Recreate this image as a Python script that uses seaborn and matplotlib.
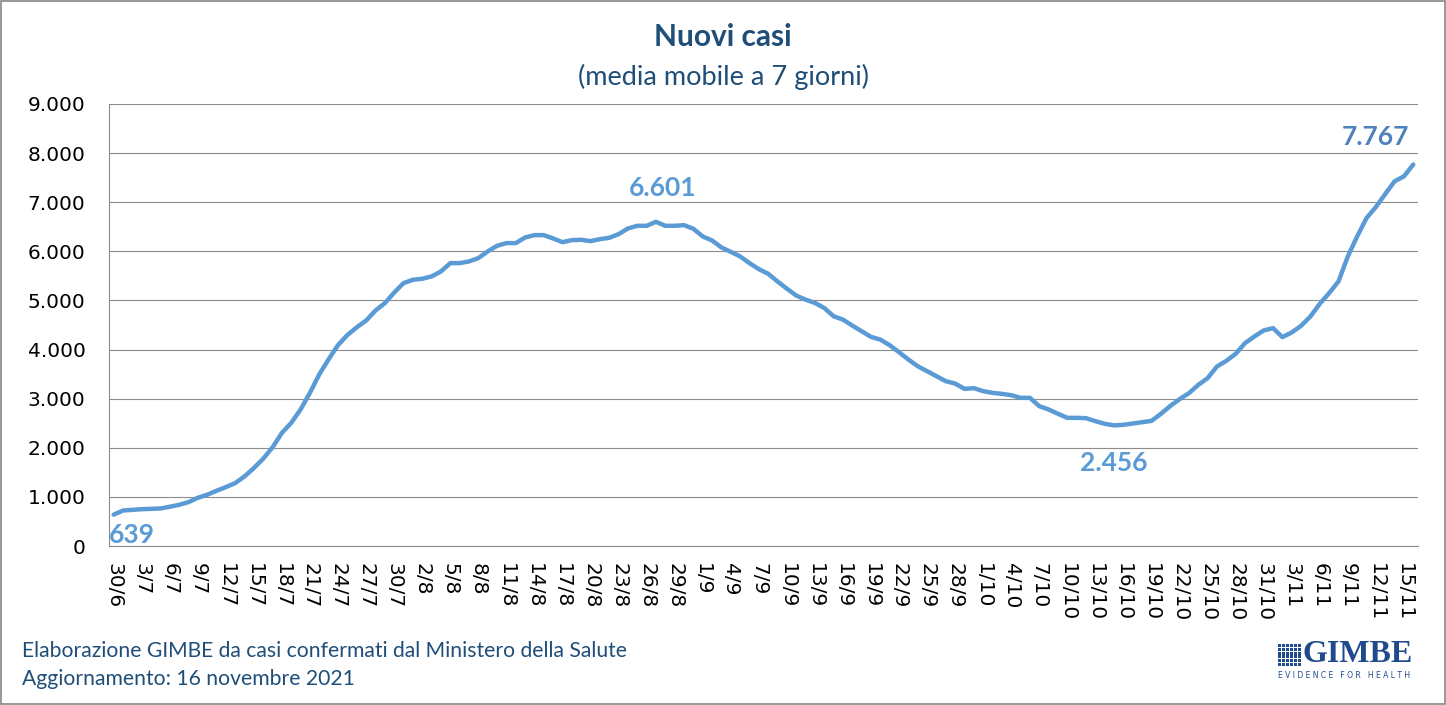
import numpy as np
import pandas as pd
import matplotlib
matplotlib.use("Agg")
import matplotlib.pyplot as plt
import seaborn as sns
from matplotlib.patches import Rectangle
from matplotlib.ticker import FuncFormatter

# 7-day moving average of new cases, 30/6/2021 -> 16/11/2021
dates = pd.date_range("2021-06-30", "2021-11-16", freq="D")
day_labels = [f"{d.day}/{d.month}" for d in dates]

new_cases = [
    639, 723, 737, 750, 757, 764, 800, 839, 894, 982,
    1044, 1125, 1200, 1282, 1419, 1589, 1780, 2012, 2306, 2510,
    2783, 3124, 3499, 3806, 4093, 4297, 4454, 4591, 4795, 4945,
    5160, 5353, 5421, 5441, 5489, 5590, 5760, 5760, 5794, 5862,
    5997, 6113, 6167, 6167, 6282, 6330, 6330, 6262, 6187, 6228,
    6235, 6208, 6248, 6275, 6350, 6465, 6520, 6520, 6601, 6520,
    6520, 6533, 6459, 6303, 6221, 6079, 5990, 5896, 5760, 5638,
    5543, 5387, 5240, 5100, 5017, 4949, 4847, 4678, 4610, 4488,
    4373, 4258, 4203, 4088, 3946, 3797, 3661, 3559, 3458, 3356,
    3308, 3200, 3214, 3153, 3119, 3098, 3071, 3017, 3017, 2847,
    2780, 2692, 2610, 2610, 2603, 2542, 2488, 2456, 2468, 2495,
    2522, 2548, 2690, 2850, 2990, 3111, 3281, 3417, 3655, 3770,
    3913, 4130, 4266, 4389, 4436, 4253, 4348, 4484, 4674, 4932,
    5149, 5387, 5897, 6304, 6678, 6902, 7167, 7425, 7527, 7767,
]

# highlighted points: (index, label, colour, offset in points)
highlights = [
    (0, "639", "#5B9BD5", (13, -15)),
    (58, "6.601", "#5B9BD5", (5, 24)),
    (107, "2.456", "#5B9BD5", (0, -27)),
    (139, "7.767", "#4F81BD", (-27, 20)),
]

navy = "#1F4E79"
line_blue = "#5B9BD5"
grid_grey = "#8C8C8C"

sns.set_style("white")
plt.rcParams["font.family"] = ["DejaVu Sans"]

fig = plt.figure(figsize=(14.46, 7.05), dpi=100)
ax = fig.add_axes([0.0754, 0.2255, 0.9052, 0.627])

df = pd.DataFrame({"idx": np.arange(len(new_cases)), "casi": new_cases})
sns.lineplot(data=df, x="idx", y="casi", ax=ax, color=line_blue, linewidth=3.2)

ax.set_xlim(-0.5, len(new_cases) - 0.5)
ax.set_ylim(0, 9000)
ax.set_yticks(range(0, 9001, 1000))
ax.yaxis.set_major_formatter(FuncFormatter(lambda v, p: f"{int(v):,}".replace(",", ".")))
tick_pos = list(range(0, len(new_cases), 3))
ax.set_xticks(tick_pos)
ax.set_xticklabels([day_labels[i] for i in tick_pos], rotation=270, va="top", ha="center")
ax.tick_params(axis="y", length=0, pad=17, labelsize=14.5, labelcolor="black")
ax.tick_params(axis="x", length=0, pad=12, labelsize=14.5, labelcolor="black")
ax.set_xlabel("")
ax.set_ylabel("")

ax.grid(axis="y", color=grid_grey, linewidth=0.8)
ax.set_axisbelow(True)
for side in ["top", "right"]:
    ax.spines[side].set_visible(False)
for side in ["left", "bottom"]:
    ax.spines[side].set_color(grid_grey)
    ax.spines[side].set_linewidth(0.8)

for i, txt, col, off in highlights:
    ax.annotate(txt, (i, new_cases[i]), xytext=off, textcoords="offset points",
                ha="center", va="center", fontsize=19, fontweight="bold",
                color=col, family="Lato")

# titles
fig.text(0.5, 0.947, "Nuovi casi", ha="center", va="center", fontsize=21.5,
         fontweight="bold", color=navy, family="Lato")
fig.text(0.5, 0.891, "(media mobile a 7 giorni)", ha="center", va="center",
         fontsize=19.5, color=navy, family="Lato")

# footer
fig.text(0.0152, 0.077, "Elaborazione GIMBE da casi confermati dal Ministero della Salute",
         ha="left", va="center", fontsize=15.2, color=navy, family="Lato")
fig.text(0.0152, 0.037, "Aggiornamento: 16 novembre 2021",
         ha="left", va="center", fontsize=15.2, color=navy, family="Lato")

# GIMBE logo (rough)
logo = "#1F4A8C"
W, H = 1446.0, 705.0
for r in range(6):
    for c in range(6):
        x0 = 1278 + c * 4.0
        y0 = 644 + r * 3.8
        fig.patches.append(Rectangle((x0 / W, 1 - (y0 + 3.0) / H), 3.0 / W, 3.0 / H,
                                     transform=fig.transFigure, color=logo, lw=0))
fig.text(1358 / W, 1 - 655 / H, "GIMBE", ha="center", va="center", fontsize=23,
         fontweight="bold", color=logo, family="Liberation Serif")
fig.text(1344 / W, 1 - 676 / H, "E V I D E N C E   F O R   H E A L T H", ha="center",
         va="center", fontsize=5.5, color=logo, family="DejaVu Sans")

# outer chart border
fig.patches.append(Rectangle((0.0005, 0.001), 0.999, 0.998, transform=fig.transFigure,
                             fill=False, edgecolor="#868686", lw=1.2))

fig.savefig("out.png", dpi=100)
